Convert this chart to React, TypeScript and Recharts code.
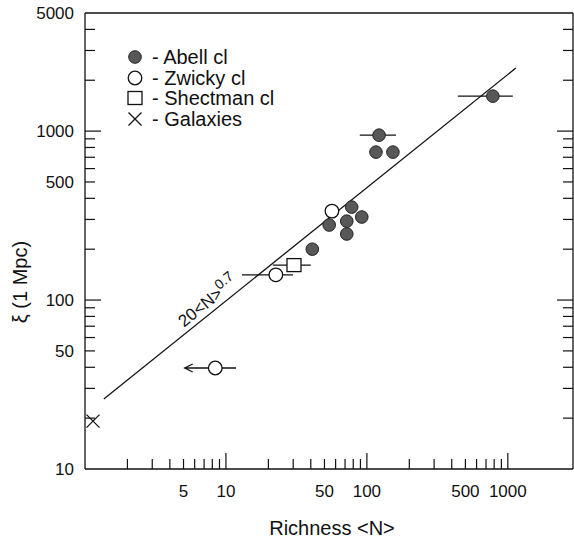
import React from 'react';
import { ScatterChart, Scatter, XAxis, YAxis, ErrorBar, ReferenceLine, Legend } from 'recharts';

// Abell clusters (filled dots)
const abellN = [783, 122, 116, 153, 78, 92, 54, 72, 72, 41];
const abellXi = [1610, 946, 751, 751, 355, 310, 278, 293, 246, 200];
const abellErr = [[341, 302], [33, 39], [0, 0], [0, 0], [0, 0], [0, 0], [0, 0], [0, 0], [0, 0], [0, 0]];

// Zwicky clusters (open circles)
const zwickyN = [56.5, 22.6, 8.4];
const zwickyXi = [336, 141, 39.6];
const zwickyErr = [[0, 0], [9.6, 7.3], [3.3, 3.4]];

// Shectman clusters (open square)
const shectmanN = [30.4];
const shectmanXi = [161];
const shectmanErr = [[8.9, 9.6]];

// Galaxies (cross)
const galaxyN = [1.14];
const galaxyXi = [19.2];

// upper-limit arrow head on the lowest Zwicky point
const limitN = [5.1];
const limitXi = [39.6];

// fit 20<N>^0.7
const fitN = [1.36, 1140];
const fitXi = [26, 2360];
const fitLabelN = [8.3];
const fitLabelXi = [88];

const xTicks = [1, 2, 3, 4, 5, 6, 7, 8, 9, 10, 20, 30, 40, 50, 60, 70, 80, 90, 100, 200, 300, 400, 500, 600, 700, 800, 900, 1000];
const xLabels = [5, 10, 50, 100, 500, 1000];
const xMajor = [10, 100, 1000];

const yTicks = [10, 20, 30, 40, 50, 60, 70, 80, 90, 100, 200, 300, 400, 500, 600, 700, 800, 900, 1000, 2000, 3000, 4000, 5000];
const yLabels = [10, 50, 100, 500, 1000, 5000];
const yMajor = [100, 1000];

const legendNames = ['Abell cl', 'Zwicky cl', 'Shectman cl', 'Galaxies'];

const abellData = abellN.map((n, i) => ({ n, xi: abellXi[i], err: abellErr[i] }));
const zwickyData = zwickyN.map((n, i) => ({ n, xi: zwickyXi[i], err: zwickyErr[i] }));
const shectmanData = shectmanN.map((n, i) => ({ n, xi: shectmanXi[i], err: shectmanErr[i] }));
const galaxyData = galaxyN.map((n, i) => ({ n, xi: galaxyXi[i] }));
const limitData = limitN.map((n, i) => ({ n, xi: limitXi[i] }));
const fitLabelData = fitLabelN.map((n, i) => ({ n, xi: fitLabelXi[i] }));

const INK = '#111';
const FONT = '"Liberation Sans", Arial, Helvetica, sans-serif';

const AbellDot = ({ cx, cy }: any) => (
  <circle cx={cx} cy={cy} r={6.3} fill="#585858" stroke="#222" strokeWidth={1} />
);
const ZwickyDot = ({ cx, cy }: any) => (
  <circle cx={cx} cy={cy} r={6.8} fill="#fff" stroke={INK} strokeWidth={1.3} />
);
const ShectmanBox = ({ cx, cy }: any) => (
  <rect x={cx - 7} y={cy - 6.5} width={14} height={13} fill="#fff" stroke={INK} strokeWidth={1.3} />
);
const GalaxyCross = ({ cx, cy }: any) => (
  <path d={`M${cx - 6.5},${cy - 6.5}L${cx + 6.5},${cy + 6.5}M${cx - 6.5},${cy + 6.5}L${cx + 6.5},${cy - 6.5}`} stroke={INK} strokeWidth={1.3} fill="none" />
);
const ArrowHead = ({ cx, cy }: any) => (
  <path d={`M${cx + 8},${cy - 4}L${cx},${cy}L${cx + 8},${cy + 4}`} stroke={INK} strokeWidth={1.3} fill="none" />
);
const FitLabel = ({ cx, cy }: any) => (
  <g transform={`translate(${cx},${cy}) rotate(-39)`}>
    <text x={0} y={-5} textAnchor="middle" fontSize={17} fill={INK} fontFamily={FONT}>
      20&lt;N&gt;<tspan fontSize={14} dy={-7}>0.7</tspan>
    </text>
  </g>
);

const len = (v: number, majors: number[]) => (majors.includes(v) ? 16 : 10);

const BottomTick = ({ x, y, payload }: any) => {
  const v = payload.value;
  return (
    <g>
      {v > 1 && <line x1={x} y1={y} x2={x} y2={y - len(v, xMajor)} stroke={INK} strokeWidth={1.2} />}
      {xLabels.includes(v) && (
        <text x={x} y={y + 28} textAnchor="middle" fontSize={17} fill={INK} fontFamily={FONT}>{v}</text>
      )}
    </g>
  );
};

const TopTick = ({ x, y, payload }: any) => {
  const v = payload.value;
  return v > 1 ? <line x1={x} y1={y} x2={x} y2={y + len(v, xMajor)} stroke={INK} strokeWidth={1.2} /> : <g />;
};

const LeftTick = ({ x, y, payload }: any) => {
  const v = payload.value;
  return (
    <g>
      {v > 10 && v < 5000 && <line x1={x} y1={y} x2={x + len(v, yMajor)} y2={y} stroke={INK} strokeWidth={1.2} />}
      {yLabels.includes(v) && (
        <text x={x - 11} y={y} dy="0.35em" textAnchor="end" fontSize={17} fill={INK} fontFamily={FONT}>{v}</text>
      )}
    </g>
  );
};

const RightTick = ({ x, y, payload }: any) => {
  const v = payload.value;
  return v > 10 && v < 5000 ? <line x1={x} y1={y} x2={x - len(v, yMajor)} y2={y} stroke={INK} strokeWidth={1.2} /> : <g />;
};

const XTitle = (props: any) => {
  const vb = props.viewBox || { x: 85, y: 469, width: 488, height: 1 };
  return (
    <text x={vb.x + vb.width / 2 + 3} y={vb.y + 66} textAnchor="middle" fontSize={20} fill={INK} fontFamily={FONT}>
      Richness &lt;N&gt;
    </text>
  );
};

const YTitle = (props: any) => {
  const vb = props.viewBox || { x: 84, y: 13, width: 1, height: 456 };
  const x = vb.x + vb.width - 58;
  const y = vb.y + vb.height / 2 + 41;
  return (
    <text x={x} y={y} transform={`rotate(-90 ${x} ${y})`} textAnchor="middle" fontSize={20} fill={INK} fontFamily={FONT}>
      ξ (1 Mpc)
    </text>
  );
};

const legendSymbols = [AbellDot, ZwickyDot, ShectmanBox, GalaxyCross];
const legendRowY = [14, 35, 55, 76];

const LegendBox = () => (
  <svg width={240} height={95}>
    {legendNames.map((name, i) => {
      const Sym = legendSymbols[i];
      return (
        <g key={name}>
          <Sym cx={15} cy={legendRowY[i]} />
          <text x={32} y={legendRowY[i] + 6.5} fontSize={20} fill={INK} fontFamily={FONT}>- {name}</text>
        </g>
      );
    })}
  </svg>
);

const axisStroke = { stroke: INK, strokeWidth: 1.3 };

export default function App() {
  return (
    <div style={{ position: 'absolute', left: 0, top: 0, background: '#fff' }}>
      <ScatterChart width={574} height={541} margin={{ top: 12, right: 0, bottom: 71, left: 84 }} style={{ fontFamily: FONT }}>
        <XAxis
          xAxisId={0}
          type="number"
          dataKey="n"
          scale="log"
          domain={[1, 2900]}
          allowDataOverflow
          ticks={xTicks}
          interval={0}
          tick={(p: any) => <BottomTick {...p} />}
          tickLine={false}
          tickSize={0}
          tickMargin={0}
          height={1}
          axisLine={axisStroke}
          label={XTitle}
        />
        <XAxis
          xAxisId="top"
          orientation="top"
          type="number"
          scale="log"
          domain={[1, 2900]}
          allowDataOverflow
          ticks={xTicks}
          interval={0}
          tick={(p: any) => <TopTick {...p} />}
          tickLine={false}
          tickSize={0}
          tickMargin={0}
          height={1}
          axisLine={axisStroke}
        />
        <YAxis
          yAxisId={0}
          type="number"
          dataKey="xi"
          scale="log"
          domain={[10, 5000]}
          allowDataOverflow
          ticks={yTicks}
          interval={0}
          tick={(p: any) => <LeftTick {...p} />}
          tickLine={false}
          tickSize={0}
          tickMargin={0}
          width={1}
          axisLine={axisStroke}
          label={YTitle}
        />
        <YAxis
          yAxisId="right"
          orientation="right"
          type="number"
          scale="log"
          domain={[10, 5000]}
          allowDataOverflow
          ticks={yTicks}
          interval={0}
          tick={(p: any) => <RightTick {...p} />}
          tickLine={false}
          tickSize={0}
          tickMargin={0}
          width={1}
          axisLine={axisStroke}
        />
        <ReferenceLine
          segment={[{ x: fitN[0], y: fitXi[0] }, { x: fitN[1], y: fitXi[1] }]}
          stroke={INK}
          strokeWidth={1.3}
          ifOverflow="visible"
        />
        <Scatter data={fitLabelData} shape={FitLabel} isAnimationActive={false} legendType="none" />
        <Scatter data={shectmanData} shape={ShectmanBox} isAnimationActive={false}>
          <ErrorBar dataKey="err" direction="x" width={0} stroke={INK} strokeWidth={1.3} />
        </Scatter>
        <Scatter data={zwickyData} shape={ZwickyDot} isAnimationActive={false}>
          <ErrorBar dataKey="err" direction="x" width={0} stroke={INK} strokeWidth={1.3} />
        </Scatter>
        <Scatter data={limitData} shape={ArrowHead} isAnimationActive={false} legendType="none" />
        <Scatter data={abellData} shape={AbellDot} isAnimationActive={false}>
          <ErrorBar dataKey="err" direction="x" width={0} stroke={INK} strokeWidth={1.3} />
        </Scatter>
        <Scatter data={galaxyData} shape={GalaxyCross} isAnimationActive={false} />
        <Legend
          layout="vertical"
          align="center"
          verticalAlign="middle"
          wrapperStyle={{ left: 120, top: 43, width: 240, height: 95 }}
          content={LegendBox}
        />
      </ScatterChart>
    </div>
  );
}
